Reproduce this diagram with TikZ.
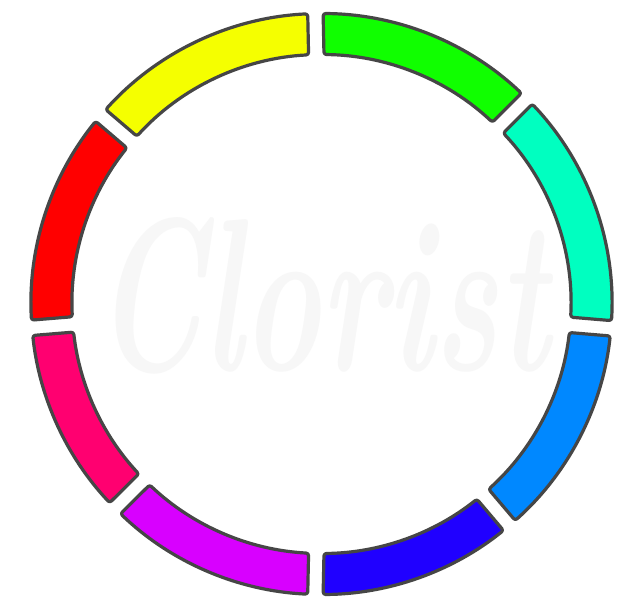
\documentclass[tikz,border=0pt]{standalone}
\usepackage{tikz}
\definecolor{ring}{HTML}{464646}
\definecolor{wm}{HTML}{F7F7F7}
\definecolor{hred}{HTML}{FF0000}
\definecolor{hyellow}{HTML}{F5FF00}
\definecolor{hgreen}{HTML}{10FF00}
\definecolor{hcyan}{HTML}{00FFC0}
\definecolor{hblue}{HTML}{0088FF}
\definecolor{hindigo}{HTML}{2000FF}
\definecolor{hviolet}{HTML}{D800FF}
\definecolor{hpink}{HTML}{FF0070}
\newcommand{\ringout}{290.5}
\newcommand{\ringin}{249.5}

\begin{document}
\begin{tikzpicture}[x=1pt, y=1pt,
  seg/.style={draw=ring, line width=3.2pt, rounded corners=2.5pt, line join=round},
  logo/.style={font=\fontsize{150}{150}\selectfont\bfseries\itshape, text=wm, xscale=0.88, yscale=1.45}]

% canvas
\fill[white] (-321.5,-304) rectangle (322.5,304);
\useasboundingbox (-321.5,-304) rectangle (322.5,304);

% watermark
\node[logo] (brand) at (0,8) {Clorist};

% ring segments
\foreach \col/\a/\b in {hcyan/355.2/405, hgreen/45/91.2, hyellow/91.2/139.5,
    hred/139.5/184.7, hpink/184.7/224.7, hviolet/224.7/268.8,
    hindigo/268.8/310.3, hblue/310.3/355.2}
  \filldraw[seg, fill=\col] (\a+1.52:\ringout)
    arc[start angle=\a+1.52, end angle=\b-1.52, radius=\ringout]
    -- (\b-1.77:\ringin)
    arc[start angle=\b-1.77, end angle=\a+1.77, radius=\ringin] -- cycle;

\end{tikzpicture}
\end{document}
